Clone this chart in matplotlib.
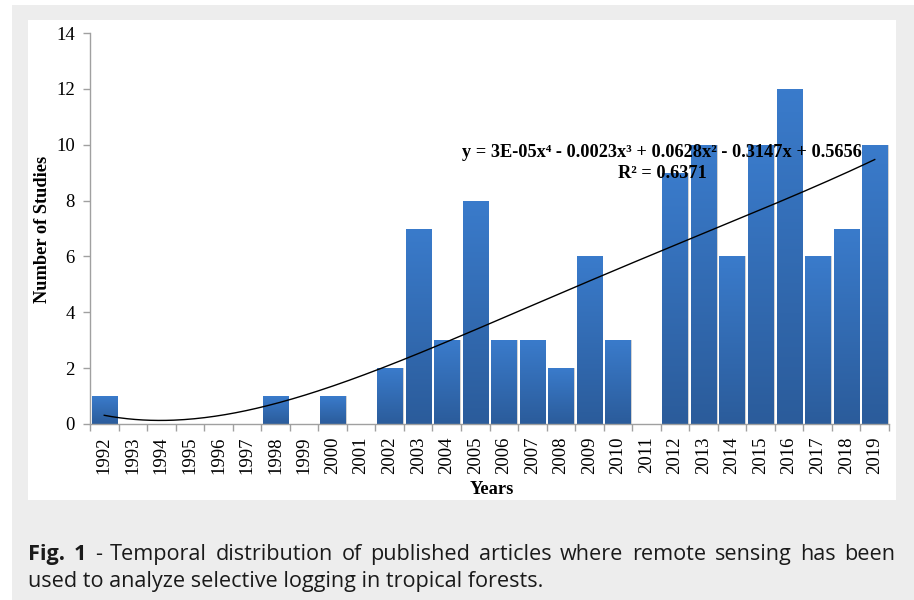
import numpy as np
import matplotlib
matplotlib.use("Agg")
import matplotlib.pyplot as plt
from matplotlib.patches import Rectangle
from matplotlib.colors import LinearSegmentedColormap

years = [str(y) for y in range(1992, 2020)]
studies = [1, 0, 0, 0, 0, 0, 1, 0, 1, 0, 2, 7, 3, 8, 3, 3, 2, 6, 3, 0,
           9, 10, 6, 10, 12, 6, 7, 10]
y_ticks = [0, 2, 4, 6, 8, 10, 12, 14]
equation = "y = 3E-05x\u2074 - 0.0023x\u00b3 + 0.0628x\u00b2 - 0.3147x + 0.5656"
r2_text = "R\u00b2 = 0.6371"
caption_line1 = ["Fig.", "1", "-", "Temporal", "distribution", "of", "published",
                 "articles", "where", "remote", "sensing", "has", "been"]
caption_line2 = "used to analyze selective logging in tropical forests."

W, H = 914, 600
fig = plt.figure(figsize=(W / 100, H / 100), dpi=100)
fig.patch.set_facecolor("white")

def px(x, y):
    return x / W, 1 - y / H

# background boxes
fig.patches.append(Rectangle((12 / W, 0), (W - 12) / W, 595 / H,
                             transform=fig.transFigure, facecolor="#ededed",
                             edgecolor="none", zorder=-10))
fig.patches.append(Rectangle((28 / W, 100 / H), 868 / W, 480 / H,
                             transform=fig.transFigure, facecolor="white",
                             edgecolor="none", zorder=-9))

serif = ["Liberation Serif", "DejaVu Serif"]

left, right, bottom, top = 90, 889, 424, 33
ax = fig.add_axes([left / W, 1 - bottom / H, (right - left) / W, (bottom - top) / H])
ax.set_facecolor("none")
n = len(years)
xpos = np.arange(n)
ax.set_xlim(-0.5, n - 0.5)
ax.set_ylim(0, 14)

cmap = LinearSegmentedColormap.from_list("g", ["#2b5c9b", "#3a7bcb"])
grad = np.linspace(0, 1, 100).reshape(-1, 1)
bw = 0.88
# shadows
ax.bar(xpos + 0.05, studies, width=bw, color="#d2d2d2", zorder=1, linewidth=0)
bars = ax.bar(xpos, studies, width=bw, color="none", zorder=2, linewidth=0)
for b, v in zip(bars, studies):
    if v <= 0:
        continue
    x0 = b.get_x()
    im = ax.imshow(grad, cmap=cmap, aspect="auto", origin="lower",
                   extent=[x0, x0 + bw, 0, v], zorder=2)
    im.set_clip_path(b)

# polynomial trendline (order 4) fitted like Excel
xf = np.arange(1, n + 1)
coef = np.polyfit(xf, studies, 4)
xs = np.linspace(1, n, 300)
ax.plot(xs - 1, np.polyval(coef, xs), color="black", lw=1.0, zorder=3)

for s in ["top", "right"]:
    ax.spines[s].set_visible(False)
for s in ["left", "bottom"]:
    ax.spines[s].set_color("#a0a0a0")
    ax.spines[s].set_linewidth(1.0)
ax.spines["bottom"].set_zorder(4)

ax.set_yticks(y_ticks)
ax.set_yticklabels([str(t) for t in y_ticks], family=serif, fontsize=13.5)
ax.tick_params(axis="y", length=5, color="#a0a0a0", pad=6, width=1)
ax.set_xticks(xpos)
ax.set_xticklabels(years, rotation=90, family=serif, fontsize=13.5)
ax.tick_params(axis="x", length=0, pad=9)
ax.set_xticks(np.arange(n + 1) - 0.5, minor=True)
ax.tick_params(axis="x", which="minor", length=5, color="#a0a0a0", width=1)

fig.text(*px(43, 229), "Number of Studies", rotation=90, ha="center", va="center",
         family=serif, fontsize=13.2, fontweight="bold")
fig.text(*px(492, 489), "Years", ha="center", va="center",
         family=serif, fontsize=13.2, fontweight="bold")

fig.text(*px(662, 152), equation, ha="center", va="center", family=serif,
         fontsize=13.2, fontweight="bold")
fig.text(*px(662, 173), r2_text, ha="center", va="center", family=serif,
         fontsize=13.2, fontweight="bold")

# caption with justification
renderer = fig.canvas.get_renderer()
cap_font = ["Open Sans", "DejaVu Sans"]
cap_fs = 15.6
cx0, cx1 = 28, 895
fig.text(*px(cx0, 587), caption_line2, ha="left", va="baseline", family=cap_font,
         fontsize=cap_fs, color="#1a1a1a")
texts = []
for i, wd in enumerate(caption_line1):
    t = fig.text(0, 1 - 560 / H, wd, ha="left", va="baseline", family=cap_font,
                 fontsize=cap_fs, color="#1a1a1a",
                 fontweight="bold" if i < 2 else "normal")
    texts.append(t)
widths = [t.get_window_extent(renderer).width for t in texts]
gap = ((cx1 - cx0) - sum(widths)) / (len(texts) - 1)
x = cx0
for t, w in zip(texts, widths):
    t.set_x(x / W)
    x += w + gap

fig.savefig("out.png", dpi=100)
